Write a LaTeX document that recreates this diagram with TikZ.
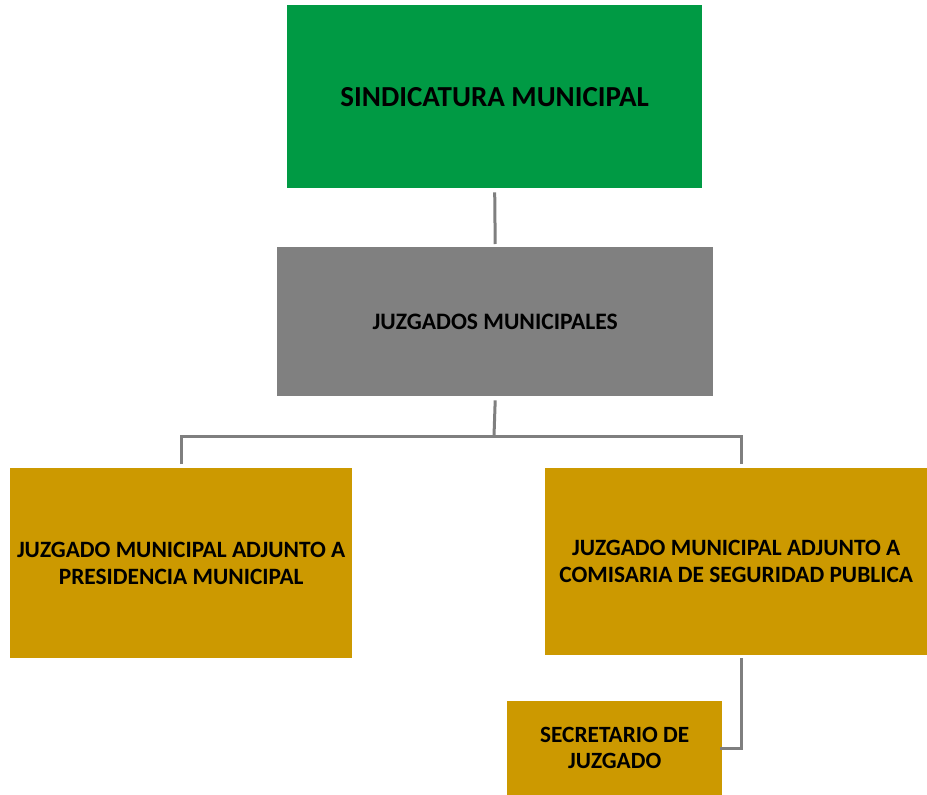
\documentclass[tikz,border=0pt]{standalone}
\usepackage{fontspec}
\setmainfont{Carlito}
\begin{document}
\definecolor{sindgreen}{RGB}{0,154,68}
\definecolor{juzgray}{RGB}{128,128,128}
\definecolor{juzgold}{RGB}{204,153,0}
\definecolor{linkgray}{RGB}{127,127,127}
\begin{tikzpicture}[x=1pt,y=-1pt,
  box/.style={draw=none,anchor=north west,inner sep=0pt,align=center,text=black,font=\bfseries},
  link/.style={draw=linkgray,line width=3pt}]
\useasboundingbox (0,0) rectangle (927,795);
% Organisational units
\node[box,fill=sindgreen,minimum width=415pt,minimum height=183pt,
  font=\bfseries\fontsize{29}{32}\selectfont] (sind) at (287,5) {SINDICATURA MUNICIPAL};
\node[box,fill=juzgray,minimum width=436pt,minimum height=149pt,
  font=\bfseries\fontsize{23.6}{27}\selectfont] (juz) at (277,247) {JUZGADOS MUNICIPALES};
\node[box,fill=juzgold,minimum width=342pt,minimum height=190pt,
  font=\bfseries\fontsize{23.4}{27}\selectfont] (pres) at (10,468) {JUZGADO MUNICIPAL ADJUNTO A\\PRESIDENCIA MUNICIPAL};
\node[box,fill=juzgold,minimum width=382pt,minimum height=187pt,
  font=\bfseries\fontsize{23.4}{27}\selectfont] (com) at (545,468) {JUZGADO MUNICIPAL ADJUNTO A\\COMISARIA DE SEGURIDAD PUBLICA};
\node[box,fill=juzgold,minimum width=215pt,minimum height=94pt,
  font=\bfseries\fontsize{23.3}{26}\selectfont] (sec) at (507,701) {SECRETARIO DE\\JUZGADO};
% Connectors
\coordinate (fork) at (494,436);
\draw[link] ([yshift=-4pt]sind.south) -- ([yshift=3pt]juz.north);
\draw[link] ([yshift=-4pt]juz.south) -- (fork);
\draw[link] ([yshift=4pt]pres.north -| 181,0) |- (fork) -| ([yshift=4pt]com.north -| 741,0);
\draw[link] ([yshift=-3pt]com.south -| 741,0) |- ([xshift=-2pt]sec.east |- 0,748);
\end{tikzpicture}
\end{document}
